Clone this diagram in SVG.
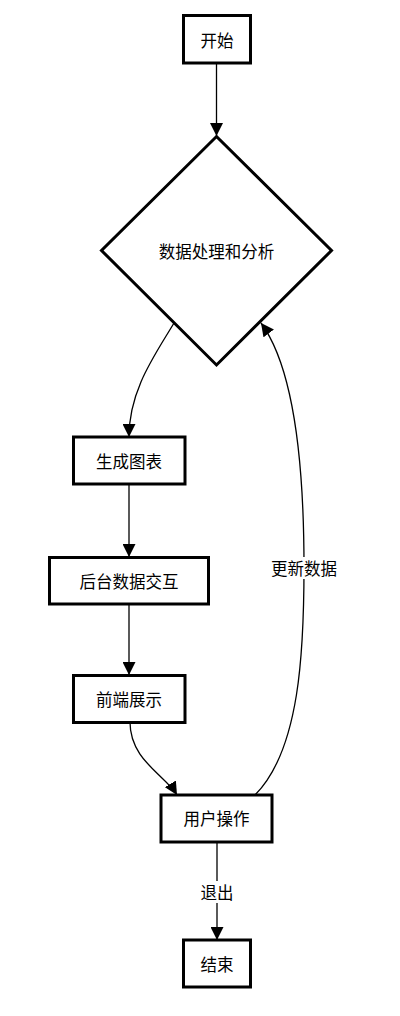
<svg xmlns="http://www.w3.org/2000/svg" width="400" height="1016" viewBox="0 0 400 1016">
<style>
.node rect, .node polygon { fill: #fff; stroke: #000; stroke-width: 3; }
.node text, .lbl { font-family: "Noto Sans CJK SC", "Liberation Sans", sans-serif; font-size: 16.5px; fill: #000; text-anchor: middle; dominant-baseline: central; }
.edge { fill: none; stroke: #000; stroke-width: 1.3; marker-end: url(#arr); }
.lblbg { fill: #fff; }
</style>
<defs>
<marker id="arr" markerUnits="userSpaceOnUse" markerWidth="13" markerHeight="13" viewBox="0 0 10 10" refX="10" refY="5" orient="auto">
<path d="M0,0 L10,5 L0,10 z" fill="#000"/>
</marker>
</defs>
<rect width="400" height="1016" fill="#fff"/>
<g id="connectors">
<path class="edge" d="M216.5,63 L216.5,136"/>
<path class="edge" d="M174,323 C155,355 129,390 129,437"/>
<path class="edge" d="M129,484 L129,557"/>
<path class="edge" d="M129,604 L129,675"/>
<path class="edge" d="M130,722 C130,760 165,775 177,795"/>
<path class="edge" d="M255,795 C300,750 304,650 304,567 C304,450 292,365 261,323"/>
<path class="edge" d="M217,842 L217,940"/>
<rect class="lblbg" x="270" y="557" width="68" height="22"/>
<text class="lbl" x="304" y="568">更新数据</text>
<rect class="lblbg" x="199" y="881" width="36" height="22"/>
<text class="lbl" x="217" y="892">退出</text>
</g>
<g id="start" class="node"><rect x="183.5" y="15.5" width="67" height="47.5"/><text x="217" y="40">开始</text></g>
<g id="process" class="node"><polygon points="216.5,136.5 331.5,250.5 216.5,365 101.5,250.5"/><text x="216.5" y="251">数据处理和分析</text></g>
<g id="chart" class="node"><rect x="73.5" y="437" width="111.5" height="47"/><text x="129" y="461">生成图表</text></g>
<g id="backend" class="node"><rect x="49.5" y="557.5" width="159" height="46.5"/><text x="129" y="581">后台数据交互</text></g>
<g id="frontend" class="node"><rect x="73.5" y="675.5" width="111.5" height="47"/><text x="129" y="699">前端展示</text></g>
<g id="user" class="node"><rect x="161" y="795" width="111" height="47"/><text x="216.5" y="818">用户操作</text></g>
<g id="end" class="node"><rect x="183.5" y="940" width="67" height="47"/><text x="217" y="964">结束</text></g>
</svg>
